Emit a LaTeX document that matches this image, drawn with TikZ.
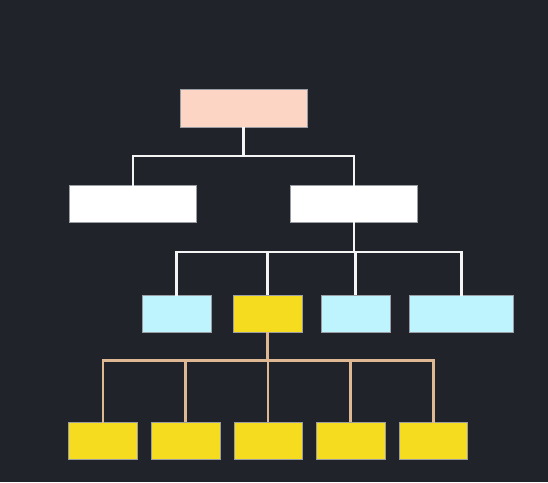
\documentclass[tikz,border=0pt]{standalone}
\definecolor{bg}{HTML}{202329}
\definecolor{rootc}{HTML}{FDD5C5}
\definecolor{bluec}{HTML}{BDF4FD}
\definecolor{yelc}{HTML}{F5DC1F}
\definecolor{tanc}{HTML}{DDB892}
\definecolor{edgec}{HTML}{9A9EA4}
\definecolor{lwhite}{HTML}{F4F4F4}
\begin{document}
\begin{tikzpicture}[x=1pt,y=-1pt,
  box/.style={rectangle,inner sep=0pt,draw=edgec,line width=0.4pt},
  wline/.style={draw=lwhite,line width=2.5pt},
  tline/.style={draw=tanc,line width=2.5pt}]
\fill[bg] (0,0) rectangle (548,482);
\useasboundingbox (0,0) rectangle (548,482);
% bar levels
\coordinate (bar1) at (0,156);
\coordinate (bar2) at (0,252);
\coordinate (bar3) at (0,360.7);
% nodes
\node[box,fill=rootc,minimum width=127pt,minimum height=37.5pt] (root) at (243.5,108) {};
\node[box,fill=white,minimum width=127pt,minimum height=37.5pt] (l) at (133,203.5) {};
\node[box,fill=white,minimum width=127pt,minimum height=37.5pt] (r) at (354,203.5) {};
\node[box,fill=bluec,minimum width=69.5pt,minimum height=37pt] (c1) at (176.5,313.7) {};
\node[box,fill=yelc,minimum width=68.5pt,minimum height=37pt] (c2) at (267.5,313.7) {};
\node[box,fill=bluec,minimum width=69.5pt,minimum height=37pt] (c3) at (355.5,313.7) {};
\node[box,fill=bluec,minimum width=104.5pt,minimum height=37pt] (c4) at (461.3,313.7) {};
\node[box,fill=yelc,minimum width=69pt,minimum height=37.5pt] (d1) at (102.8,440.5) {};
\node[box,fill=yelc,minimum width=68.5pt,minimum height=37.5pt] (d2) at (185.5,440.5) {};
\node[box,fill=yelc,minimum width=68.5pt,minimum height=37.5pt] (d3) at (268,440.5) {};
\node[box,fill=yelc,minimum width=68.5pt,minimum height=37.5pt] (d4) at (350.7,440.5) {};
\node[box,fill=yelc,minimum width=68.5pt,minimum height=37.5pt] (d5) at (433.3,440.5) {};
% connectors level 1
\draw[wline] (root.south) -- (root.south |- bar1);
\draw[wline,line cap=rect] (l.north) -- (l.north |- bar1) -- (r.north |- bar1) -- (r.north);
% level 2
\draw[wline] (r.south) -- (r.south |- bar2);
\draw[wline,line cap=rect] (c1.north) -- (c1.north |- bar2) -- (c4.north |- bar2) -- (c4.north);
\draw[wline] (c2.north) -- (c2.north |- bar2);
\draw[wline] (c3.north) -- (c3.north |- bar2);
% level 3
\draw[tline] (c2.south) -- (c2.south |- bar3);
\draw[tline,line cap=rect] (d1.north) -- (d1.north |- bar3) -- (d5.north |- bar3) -- (d5.north);
\draw[tline] (d2.north) -- (d2.north |- bar3);
\draw[tline] (d3.north) -- (d3.north |- bar3);
\draw[tline] (d4.north) -- (d4.north |- bar3);
\end{tikzpicture}
\end{document}
